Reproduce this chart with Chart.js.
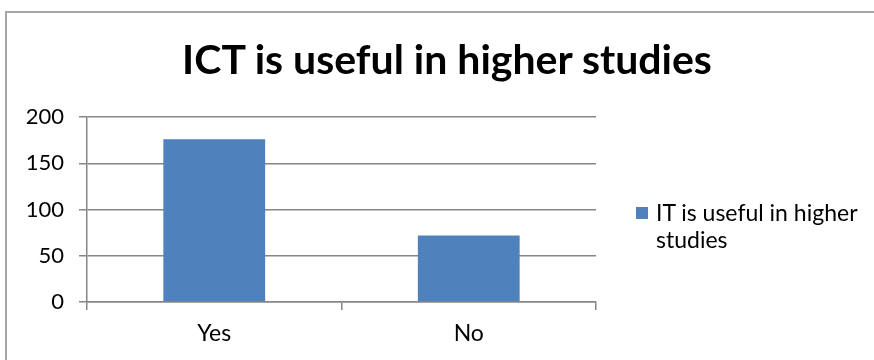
<!DOCTYPE html>
<html>
<head>
<meta charset="utf-8">
<script src="https://cdn.jsdelivr.net/npm/chart.js@4"></script>
<style>
  html, body { margin: 0; padding: 0; background: #fff; overflow: hidden; }
  #wrap { position: relative; width: 874px; height: 360px; overflow: hidden; }
  #frame { position: absolute; left: 5px; top: 11px; width: 900px; height: 400px; border: 2px solid #a6a6a6; box-sizing: border-box; }
  canvas { position: absolute; left: 0; top: 0; }
  #title { position: absolute; left: 0; top: 34px; width: 894px; text-align: center; font-family: Lato, "Open Sans", sans-serif; font-weight: bold; font-size: 41px; line-height: 50px; color: #000; }
  #legend { position: absolute; left: 636px; top: 199px; width: 238px; font-family: Lato, "Open Sans", sans-serif; font-size: 23px; line-height: 27px; color: #000; }
  #legend .sw { position: absolute; left: 0; top: 8px; width: 12px; height: 12px; }
  #legend .tx { position: absolute; left: 20px; top: 0; width: 218px; }
</style>
</head>
<body>
<div id="wrap">
  <div id="frame"></div>
  <canvas id="c" width="874" height="360"></canvas>
  <div id="title"></div>
  <div id="legend"><span class="sw"></span><span class="tx"></span></div>
</div>
<script>
const titleText = "ICT is useful in higher studies";
const categories = ["Yes", "No"];
const seriesName = "IT is useful in higher studies";
const seriesValues = [176, 72];
const yTicks = [0, 50, 100, 150, 200];
const barColor = "#4f81bd";

document.getElementById('title').textContent = titleText;
document.querySelector('#legend .sw').style.background = barColor;
document.querySelector('#legend .tx').textContent = seriesName;

const font = "Lato, 'Open Sans', sans-serif";
new Chart(document.getElementById('c'), {
  type: 'bar',
  data: {
    labels: categories,
    datasets: [{ label: seriesName, data: seriesValues, backgroundColor: barColor, barPercentage: 0.4, categoryPercentage: 1.0 }]
  },
  options: {
    responsive: false,
    devicePixelRatio: 1,
    animation: false,
    layout: { padding: { left: 0, right: 278, top: 117, bottom: 0 } },
    plugins: {
      legend: { display: false },
      tooltip: { enabled: false },
      title: { display: false }
    },
    scales: {
      y: {
        min: yTicks[0], max: yTicks[yTicks.length - 1],
        afterFit: s => { s.width = 87; },
        afterBuildTicks: s => { s.ticks = yTicks.map(v => ({ value: v })); },
        ticks: { color: '#000', font: { family: font, size: 22 }, padding: 15 },
        grid: { color: '#868686', lineWidth: 1.5, tickLength: 8 },
        border: { color: '#868686', width: 1.5 }
      },
      x: {
        afterFit: s => { s.height = 58; },
        ticks: { color: '#000', font: { family: font, size: 23 }, padding: 10 },
        grid: { drawOnChartArea: false, color: '#868686', lineWidth: 1.5, tickLength: 8 },
        border: { color: '#868686', width: 1.5 }
      }
    }
  }
});
</script>
</body>
</html>
